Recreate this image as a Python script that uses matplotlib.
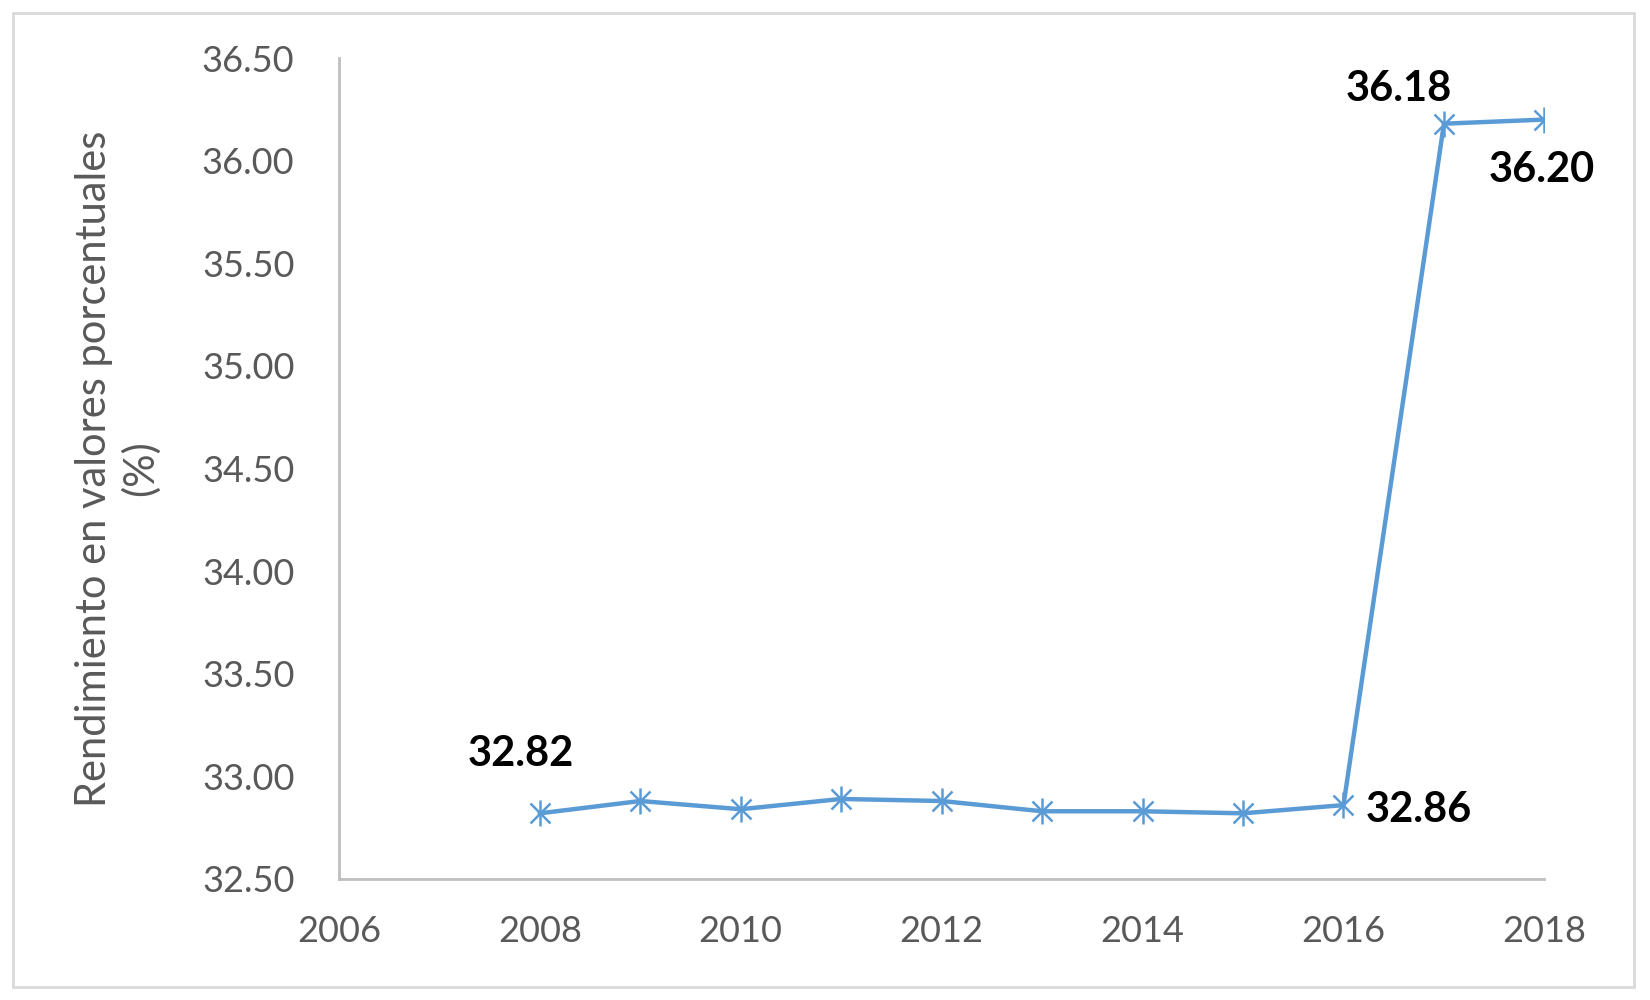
import matplotlib
matplotlib.use("Agg")
from matplotlib import pyplot as plt
from matplotlib.patches import Rectangle
from matplotlib.ticker import FormatStrFormatter

years = [2008, 2009, 2010, 2011, 2012, 2013, 2014, 2015, 2016, 2017, 2018]
rendimiento = [32.82, 32.88, 32.84, 32.89, 32.88, 32.83, 32.83, 32.82, 32.86, 36.18, 36.20]
# which points get a label, and the label text
label_years = [2008, 2016, 2017, 2018]
label_texts = ['32.82', '32.86', '36.18', '36.20']
label_offsets = [(-19, 59), (75, -5), (-45, 35), (-3, -50)]  # pixels

x_ticks = [2006, 2008, 2010, 2012, 2014, 2016, 2018]
y_ticks = [32.5, 33.0, 33.5, 34.0, 34.5, 35.0, 35.5, 36.0, 36.5]

blue = '#5B9BD5'
gray_txt = '#595959'
font = 'Lato'

fig = plt.figure(figsize=(16.5, 10), dpi=100)
fig.patches.append(Rectangle((0.008, 0.013), 0.982, 0.974, transform=fig.transFigure,
                             fill=False, edgecolor='#D9D9D9', linewidth=2))
ax = fig.add_axes([0.2054, 0.121, 0.7306, 0.821])

ax.plot(years, rendimiento, color=blue, linewidth=3.2, zorder=3)
ax.plot(years, rendimiento, linestyle='none', marker='x', markersize=15,
        markeredgewidth=1.8, color=blue, zorder=4)
ax.plot(years, rendimiento, linestyle='none', marker='|', markersize=19,
        markeredgewidth=1.8, color=blue, zorder=4)

for yr, txt, off in zip(label_years, label_texts, label_offsets):
    val = rendimiento[years.index(yr)]
    ax.annotate(txt, (yr, val), xytext=off, textcoords='offset pixels',
                ha='center', va='center', fontsize=30, fontweight='bold',
                family=font, color='black')

ax.set_xlim(2006, 2018)
ax.set_ylim(32.5, 36.5)
ax.set_xticks(x_ticks)
ax.set_yticks(y_ticks)
ax.yaxis.set_major_formatter(FormatStrFormatter('%.2f'))
ax.tick_params(length=0, labelsize=26, labelcolor=gray_txt)
ax.tick_params(axis='y', pad=32)
ax.tick_params(axis='x', pad=26)
for lab in ax.get_xticklabels() + ax.get_yticklabels():
    lab.set_family(font)

for s in ['top', 'right']:
    ax.spines[s].set_visible(False)
for s in ['left', 'bottom']:
    ax.spines[s].set_color('#BFBFBF')
    ax.spines[s].set_linewidth(2)

ax.set_ylabel('Rendimiento en valores porcentuales\n(%)', fontsize=30,
              color=gray_txt, family=font, labelpad=30, linespacing=1.25)

fig.savefig('out.png', dpi=100)
